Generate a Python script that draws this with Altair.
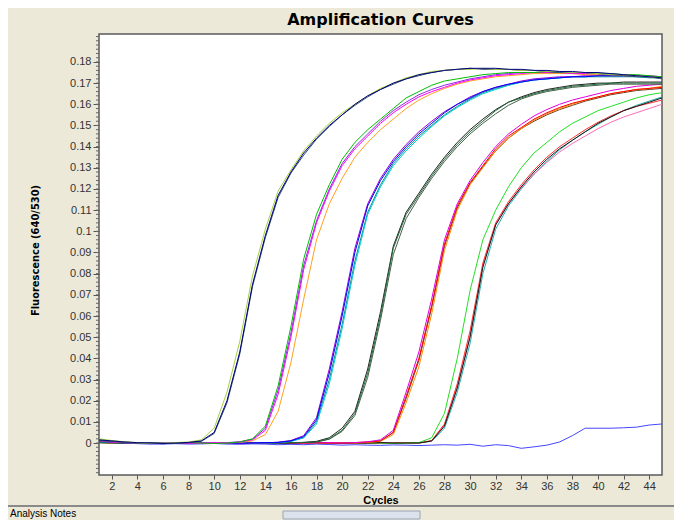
import altair as alt
import pandas as pd

cycles = list(range(1, 46))

# Fluorescence values in thousandths (x 0.001), cycles 1..45
g1_navy = [1.5, 1.0, 0.5, 0.2, 0.0, -0.2, 0.0, 0.3, 1.0, 5.0,
           20, 43, 75, 98, 117, 128, 137, 144, 150, 155,
           160, 164, 167, 170, 172, 174, 175, 176, 176.5, 177,
           177, 177, 176.5, 176.5, 176, 176, 175.5, 175.5, 175, 175,
           174.5, 174, 173.5, 173, 172.5]
g1_yellowgreen = [2.0, 1.2, 0.6, 0.2, -0.2, 0.0, 0.2, 0.5, 1.5, 7,
                  24, 48, 79, 101, 119, 129, 138, 145, 151, 156,
                  160, 164, 167.5, 170, 172.5, 174, 175.5, 176, 176.5, 176.5,
                  177, 176.5, 176.5, 176, 176, 175.5, 175.5, 175, 175, 174.5,
                  174, 174, 173.5, 173, 172.5]
g1_dark = [1.0, 0.8, 0.3, 0.0, 0.2, 0.0, -0.2, 0.2, 0.8, 4.5,
           19, 42, 74, 97, 116, 127.5, 136, 143.5, 149.5, 155,
           159.5, 163.5, 167, 169.5, 172, 173.5, 175, 176, 176.5, 177,
           176.5, 176.5, 176.5, 176, 176, 175.5, 175, 175, 175, 174.5,
           174, 173.5, 173, 173, 172]
g2_green = [1.5, 1.0, 0.5, 0.0, 0.0, -0.3, 0.0, 0.2, 0.0, -0.2,
            0.0, 0.5, 2.0, 8, 27, 55, 87, 108, 122, 134,
            142, 148, 153, 158, 163, 166, 169, 171, 172, 173,
            174, 174.5, 175, 175, 175, 175.5, 175, 175, 175, 174.5,
            174.5, 174, 174, 173.5, 173]
g2_magenta = [1.0, 0.5, 0.5, 0.0, -0.3, 0.0, 0.0, -0.2, 0.0, 0.3,
              0.0, 0.5, 1.5, 6, 23, 50, 82, 104, 119, 131,
              139, 145, 151, 156, 160, 163.5, 166, 168, 170, 171.5,
              172.5, 173.5, 174, 174.5, 175, 175, 175, 174.5, 174.5, 174.5,
              174, 174, 173.5, 173.5, 173]
g2_purple = [1.2, 0.8, 0.2, 0.0, 0.0, 0.2, -0.2, 0.0, 0.0, 0.0,
             0.2, 0.6, 1.8, 7, 25, 52, 84, 105, 120, 132,
             140, 146, 152, 157, 161, 164.5, 167, 169, 170.5, 172,
             173, 174, 174.5, 175, 175, 175, 175, 175, 174.5, 174.5,
             174, 174, 173.5, 173, 173]
g2_orange = [1.0, 0.6, 0.2, 0.0, -0.2, 0.0, 0.0, 0.0, -0.2, 0.0,
             0.0, 0.3, 1.0, 4, 15, 38, 68, 96, 113, 125,
             135, 142, 148, 153, 158, 162, 165, 167.5, 169.5, 171,
             172, 173, 173.5, 174, 174.5, 174.5, 174.5, 174.5, 174, 174,
             174, 173.5, 173.5, 173, 172.5]
g3_blue = [1.0, 0.5, 0.2, 0.0, 0.0, -0.3, 0.0, 0.0, 0.2, 0.0,
           -0.2, 0.0, 0.0, 0.2, 0.3, 1.0, 3, 11, 33, 60,
           90, 112, 124, 133, 140, 146, 151, 156, 160, 163,
           166, 168, 169.5, 170.5, 171.5, 172, 172.5, 173, 173, 173.5,
           173.5, 173.5, 173.5, 173, 173]
g3_purple = [0.8, 0.5, 0.0, 0.0, -0.2, 0.0, 0.2, 0.0, 0.0, 0.0,
             0.0, -0.2, 0.0, 0.0, 0.4, 1.2, 3.5, 12, 35, 62,
             92, 113, 125, 134, 141, 147, 152, 156.5, 160, 163.5,
             166, 168, 169.5, 171, 172, 172.5, 173, 173, 173.5, 173.5,
             173.5, 173.5, 173.5, 173, 173]
g3_cyan = [1.2, 0.8, 0.3, 0.0, 0.0, 0.0, -0.2, 0.0, 0.0, 0.2,
           0.0, 0.0, -0.2, 0.0, 0.2, 0.8, 2.5, 9, 28, 54,
           84, 108, 121, 131, 138, 144, 149.5, 154.5, 158.5, 162,
           165, 167, 169, 170.5, 171.5, 172, 172.5, 173, 173, 173.5,
           173.5, 173.5, 173, 173, 172.5]
g3_teal = [0.5, 0.2, 0.0, -0.2, 0.0, 0.0, 0.0, 0.2, 0.0, 0.0,
           0.0, 0.0, 0.0, 0.2, 0.2, 0.8, 2.5, 10, 30, 56,
           86, 109, 122, 132, 139, 145, 150, 155, 159, 162.5,
           165.5, 167.5, 169, 170.5, 171.5, 172, 172.5, 173, 173, 173,
           173, 173, 173, 172.5, 172.5]
g4_darkgreen = [0.5, 0.2, 0.0, 0.0, -0.2, 0.0, 0.0, 0.0, 0.2, 0.0,
                0.0, 0.0, -0.2, 0.0, 0.0, 0.2, 0.3, 0.5, 2, 6,
                14, 33, 60, 92, 108, 117, 126, 134, 141, 147,
                152, 157, 161, 163, 165, 166.5, 167.5, 168.5, 169, 169.5,
                170, 170, 170, 170, 170]
g4_black = [0.8, 0.3, 0.0, -0.2, 0.0, 0.0, 0.2, 0.0, 0.0, 0.0,
            -0.2, 0.0, 0.0, 0.2, 0.0, 0.0, 0.3, 0.8, 2.5, 7,
            15, 35, 62, 93, 109, 118, 127, 135, 142, 148,
            153, 157.5, 161, 163.5, 165.5, 167, 168, 169, 169.5, 170,
            170, 170.5, 170.5, 170.5, 170.5]
g4_olive = [0.3, 0.0, 0.0, 0.0, 0.2, 0.0, 0.0, -0.2, 0.0, 0.0,
            0.0, 0.2, 0.0, 0.0, 0.0, 0.2, 0.2, 0.5, 1.8, 5.5,
            13, 31, 58, 89, 106, 116, 125, 133, 140, 146,
            151, 155.5, 159.5, 162.5, 164.5, 166, 167, 168, 168.5, 169,
            169.5, 169.5, 169.5, 169.5, 169.5]
g5_red = [0.5, 0.2, 0.0, 0.0, 0.0, -0.2, 0.0, 0.0, 0.0, 0.2,
          0.0, 0.0, 0.0, -0.2, 0.0, 0.0, 0.0, 0.2, 0.0, 0.0,
          0.2, 0.5, 1.0, 5, 22, 40, 65, 94, 112, 123,
          131, 139, 145, 149, 153, 156, 158.5, 160.5, 162, 163.5,
          165, 166, 167, 167.5, 168]
g5_orange = [0.3, 0.0, 0.2, 0.0, -0.2, 0.0, 0.0, 0.2, 0.0, 0.0,
             -0.2, 0.0, 0.0, 0.0, 0.2, 0.0, -0.2, 0.0, 0.0, 0.2,
             0.0, 0.3, 0.8, 4, 19, 36, 61, 91, 110, 122,
             130, 138, 144, 148.5, 152.5, 155.5, 158, 160, 162, 163.5,
             165, 166, 167, 167.5, 168.5]
g5_magenta = [0.8, 0.3, 0.0, 0.0, 0.2, 0.0, -0.2, 0.0, 0.0, 0.0,
              0.2, 0.0, 0.0, 0.0, -0.2, 0.0, 0.0, 0.0, 0.2, 0.0,
              0.2, 0.6, 1.5, 6, 24, 43, 68, 96, 113, 124,
              132.5, 140, 146, 150.5, 154.5, 157.5, 160, 162, 163.5, 165,
              166.5, 167.5, 168.5, 169, 169.5]
g5_brown = [0.2, 0.0, 0.0, -0.2, 0.0, 0.0, 0.2, 0.0, 0.0, -0.2,
            0.0, 0.0, 0.2, 0.0, 0.0, -0.2, 0.0, 0.0, 0.0, 0.0,
            0.0, 0.4, 1.0, 5, 21, 39, 64, 93, 111, 122.5,
            130.5, 138, 144, 148.5, 152, 155, 157.5, 159.5, 161.5, 163,
            164.5, 165.5, 166.5, 167, 167.5]
g6_green = [0.3, 0.0, 0.0, -0.2, 0.0, 0.0, 0.2, 0.0, 0.0, 0.0,
            -0.2, 0.0, 0.0, 0.2, 0.0, 0.0, 0.0, -0.2, 0.0, 0.0,
            0.2, 0.0, 0.0, -0.2, 0.0, 0.2, 2.5, 14, 40, 72,
            96, 110, 121, 130, 137, 142, 147, 151, 154, 157,
            159, 161, 163, 164.5, 165.5]
g6_black = [0.5, 0.2, 0.0, 0.0, -0.2, 0.0, 0.0, 0.0, 0.2, 0.0,
            0.0, -0.2, 0.0, 0.0, 0.0, 0.2, 0.0, 0.0, 0.0, -0.2,
            0.0, 0.0, 0.2, 0.0, 0.0, 0.0, 1.0, 8, 26, 50,
            83, 103, 113, 121, 128, 134, 139, 143, 147, 151,
            154, 157, 159, 161, 163]
g6_red = [0.2, 0.0, 0.0, 0.0, 0.0, 0.2, 0.0, -0.2, 0.0, 0.0,
          0.0, 0.0, 0.2, 0.0, -0.2, 0.0, 0.0, 0.0, 0.2, 0.0,
          0.0, -0.2, 0.0, 0.0, 0.2, 0.0, 1.2, 9, 28, 53,
          85, 104, 114, 122, 129, 135, 140, 144, 148, 151.5,
          154.5, 157, 159, 160.5, 162]
g6_pink = [0.4, 0.2, 0.0, 0.0, 0.0, 0.0, -0.2, 0.0, 0.0, 0.2,
           0.0, 0.0, 0.0, -0.2, 0.0, 0.0, 0.2, 0.0, 0.0, 0.0,
           -0.2, 0.0, 0.0, 0.2, 0.0, 0.0, 1.0, 8.5, 27, 51,
           84, 103, 113, 120.5, 127, 132.5, 137.5, 141.5, 145, 148.5,
           151.5, 154, 156, 158, 160]
g6_teal = [0.0, 0.2, 0.0, 0.0, 0.2, 0.0, 0.0, 0.0, -0.2, 0.0,
           0.2, 0.0, 0.0, 0.0, 0.0, -0.2, 0.0, 0.2, 0.0, 0.0,
           0.0, 0.0, -0.2, 0.0, 0.0, 0.0, 0.8, 7, 24, 47,
           80, 101, 112, 120, 127, 133, 138.5, 143, 147, 150.5,
           154, 157, 159.5, 161.5, 163.5]
negative = [1.0, 0.5, 0.0, -0.3, -0.5, -0.5, -0.3, -0.5, -0.4, -0.2,
            -0.5, -0.6, -0.4, -0.5, -0.8, -0.6, -0.8, -0.5, -0.7, -1.0,
            -0.8, -1.0, -1.1, -0.9, -1.0, -1.2, -1.0, -0.8, -1.0, -0.6,
            -1.5, -0.8, -1.2, -2.5, -1.8, -1.0, 0.5, 3.5, 7, 7,
            7, 7.2, 7.5, 8.5, 9]

curve_names = ["neg", "g6_teal", "g6_pink", "g6_red", "g6_green", "g6_black",
               "g5_brown", "g5_orange", "g5_red", "g5_magenta",
               "g4_olive", "g4_black", "g4_darkgreen",
               "g3_teal", "g3_cyan", "g3_purple", "g3_blue",
               "g2_orange", "g2_purple", "g2_magenta", "g2_green",
               "g1_dark", "g1_yellowgreen", "g1_navy"]
curve_series = [negative, g6_teal, g6_pink, g6_red, g6_green, g6_black,
                g5_brown, g5_orange, g5_red, g5_magenta,
                g4_olive, g4_black, g4_darkgreen,
                g3_teal, g3_cyan, g3_purple, g3_blue,
                g2_orange, g2_purple, g2_magenta, g2_green,
                g1_dark, g1_yellowgreen, g1_navy]
curve_colors = ["#4646FF", "#20B2AA", "#FF69B4", "#FF3030", "#22E022", "#151515",
                "#6B3E1E", "#FF8C00", "#FF0000", "#E000E0",
                "#4B5F4B", "#222222", "#1F6B3A",
                "#008B8B", "#00D0D0", "#9400D3", "#0000FF",
                "#FFA020", "#8A2BE2", "#FF00FF", "#00C000",
                "#2F4F6F", "#A8D040", "#000080"]

x_ticks = [2, 4, 6, 8, 10, 12, 14, 16, 18, 20, 22, 24, 26, 28, 30, 32, 34,
           36, 38, 40, 42, 44]
y_ticks = [0, 0.01, 0.02, 0.03, 0.04, 0.05, 0.06, 0.07, 0.08, 0.09, 0.1,
           0.11, 0.12, 0.13, 0.14, 0.15, 0.16, 0.17, 0.18]
y_minor = [round(-0.014 + 0.002 * i, 3) for i in range(104)]

rows = []
for name, series in zip(curve_names, curve_series):
    for c, v in zip(cycles, series):
        rows.append({"curve": name, "cycle": c, "fluor": v / 1000.0})
df = pd.DataFrame(rows)
minor_df = pd.DataFrame({"fluor": y_minor})

W, H = 563, 441
xscale = alt.Scale(domain=[1, 45], nice=False, zero=False)
yscale = alt.Scale(domain=[-0.0151, 0.1932], nice=False, zero=False)

y_axis = alt.Axis(values=y_ticks, format="~g",
                  title="Fluorescence (640/530)", domain=False,
                  grid=False, tickSize=6, tickColor="#555555",
                  labelPadding=2, labelFontSize=11,
                  labelFont="Liberation Sans", labelColor="#333333",
                  titleFont="DejaVu Sans Condensed, Liberation Sans Narrow, Liberation Sans, sans-serif",
                  titleFontSize=11,
                  titleFontWeight="bold", titleColor="#000000",
                  titleX=-64, titleY=216, titleAngle=270,
                  titleAlign="center", titleBaseline="middle",
                  labelFlush=False)
x_axis = alt.Axis(values=x_ticks, title="Cycles", domain=False,
                  grid=False, tickSize=4, tickColor="#555555",
                  labelPadding=1, labelFontSize=11,
                  labelFont="Liberation Sans", labelColor="#333333",
                  titleFont="Liberation Sans", titleFontSize=11,
                  titleFontWeight="bold", titleColor="#000000",
                  titleX=W / 2, titleY=25, titleBaseline="middle",
                  labelFlush=False)

lines = alt.Chart(df).mark_line(strokeWidth=1, clip=True).encode(
    x=alt.X("cycle:Q", scale=xscale, axis=x_axis),
    y=alt.Y("fluor:Q", scale=yscale, axis=y_axis),
    color=alt.Color("curve:N", scale=alt.Scale(domain=curve_names, range=curve_colors),
                    legend=None),
    order=alt.Order("cycle:Q"),
)

minor = alt.Chart(minor_df).mark_rule(color="#666666", strokeWidth=1).encode(
    y=alt.Y("fluor:Q", scale=yscale, axis=y_axis),
    x=alt.value(-3), x2=alt.value(0),
)

sep = alt.Chart(minor_df.head(1)).mark_rule(color="#8A8A8A", strokeWidth=2).encode(
    x=alt.value(-100), x2=alt.value(W + 20), y=alt.value(472),
)
scroll = alt.Chart(minor_df.head(1)).mark_rect(
    fill="#DCE2EC", stroke="#9AA3B5", strokeWidth=1).encode(
    x=alt.value(184), x2=alt.value(321), y=alt.value(477), y2=alt.value(485),
)
notes = alt.Chart(minor_df.head(1)).mark_text(
    text="Analysis Notes", align="left", baseline="top", fontSize=10,
    font="Liberation Sans", color="#000000").encode(
    x=alt.value(-89), y=alt.value(475),
)

chart = alt.layer(lines, minor, sep, scroll, notes).properties(
    width=W, height=H,
    title=alt.TitleParams("Amplification Curves", font="DejaVu Sans",
                          fontSize=16, fontWeight="bold", color="#000000",
                          anchor="middle", offset=6),
    background="#ECE9D8",
    padding={"left": 91, "top": 26, "right": 12, "bottom": 45},
    autosize=alt.AutoSizeParams(type="none"),
).configure_view(fill="#FFFFFF", stroke="#5A5A5A", strokeWidth=1.5)

chart.save("out.html", embed_options={"renderer": "svg", "actions": False})
